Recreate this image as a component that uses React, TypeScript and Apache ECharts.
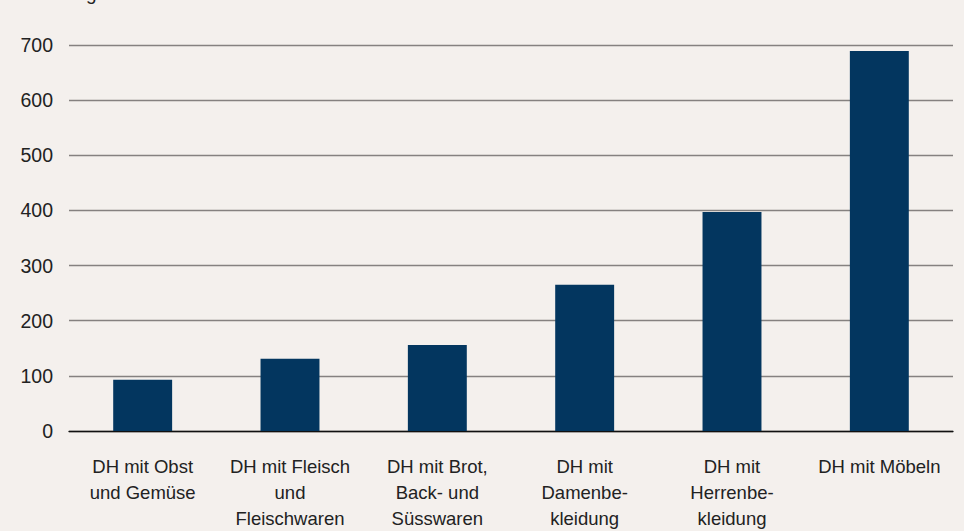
import React, { useEffect, useRef } from "react";
import * as echarts from "echarts";

const categories = [
  "DH mit Obst\nund Gemüse",
  "DH mit Fleisch\nund\nFleischwaren",
  "DH mit Brot,\nBack- und\nSüsswaren",
  "DH mit\nDamenbe-\nkleidung",
  "DH mit\nHerrenbe-\nkleidung",
  "DH mit Möbeln",
];
const values = [93, 131, 156, 265, 397, 689];
const yTicks = [0, 100, 200, 300, 400, 500, 600, 700];

export default function App() {
  const ref = useRef<HTMLDivElement>(null);

  useEffect(() => {
    if (!ref.current) return;
    const chart = echarts.init(ref.current, null, { renderer: "svg" });
    const font = "'Liberation Sans', Arial, sans-serif";
    chart.setOption({
      animation: false,
      backgroundColor: "#f4f0ed",
      textStyle: { fontFamily: font },
      grid: { left: 69, right: 11, top: 45, bottom: 100 },
      graphic: [
        {
          type: "text",
          left: 66,
          top: -16,
          style: { text: "Tage", fontSize: 19, fill: "#222", fontFamily: font },
        },
      ],
      xAxis: {
        type: "category",
        data: categories,
        axisLine: { show: true, lineStyle: { color: "#111", width: 1.3 } },
        axisTick: { show: false },
        axisLabel: {
          interval: 0,
          color: "#222",
          fontSize: 18.5,
          lineHeight: 26,
          margin: 22,
          fontFamily: font,
        },
      },
      yAxis: {
        type: "value",
        min: yTicks[0],
        max: yTicks[yTicks.length - 1],
        interval: 100,
        axisLine: { show: false },
        axisTick: { show: false },
        axisLabel: { color: "#222", fontSize: 19.5, margin: 16, fontFamily: font },
        splitLine: { lineStyle: { color: "#858180", width: 1.3 } },
      },
      series: [
        {
          type: "bar",
          data: values,
          barWidth: "40%",
          itemStyle: { color: "#03365f" },
        },
      ],
    });
    return () => chart.dispose();
  }, []);

  return (
    <div
      ref={ref}
      style={{ position: "absolute", left: 0, top: 0, width: 964, height: 531 }}
    />
  );
}
